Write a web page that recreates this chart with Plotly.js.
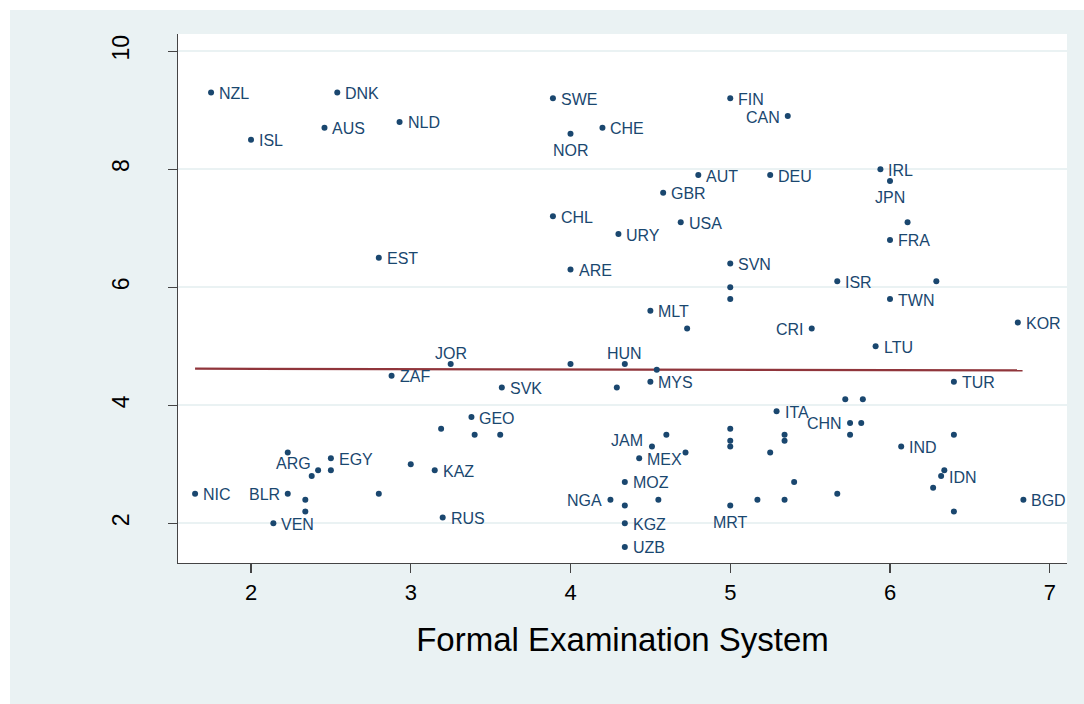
<!DOCTYPE html>
<html><head><meta charset="utf-8">
<script src="https://cdn.plot.ly/plotly-3.0.1.min.js"></script>
<style>
html,body{margin:0;padding:0;background:#ffffff;}
#chart{position:absolute;left:10px;top:10px;width:1074px;height:694px;}
</style>
</head><body><div id="chart"></div>
<script>
// ---- data ----
const countries = [
  'NZL','DNK','ISL','AUS','NLD','SWE','NOR','CHE','FIN','CAN',
  'AUT','DEU','IRL','JPN','GBR','CHL','USA','URY','FRA','EST',
  'ARE','SVN','ISR','TWN','MLT','CRI','KOR','LTU','JOR','HUN',
  'ZAF','SVK','MYS','TUR','GEO','ITA','CHN','JAM','MEX','IND',
  'ARG','EGY','KAZ','IDN','MOZ','NIC','BLR','NGA','BGD','MRT',
  'RUS','VEN','KGZ','UZB',
  '','','','','','','','','','',
  '','','','','','','','','','',
  '','','','','','','','','','',
  '','','','','','','','','',''
];
const xVals = [
  1.75,2.54,2.00,2.46,2.93,3.89,4.00,4.20,5.00,5.36,
  4.80,5.25,5.94,6.00,4.58,3.89,4.69,4.30,6.00,2.80,
  4.00,5.00,5.67,6.00,4.50,5.51,6.80,5.91,3.25,4.34,
  2.88,3.57,4.50,6.40,3.38,5.29,5.75,4.51,4.43,6.07,
  2.23,2.50,3.15,6.32,4.34,1.65,2.23,4.25,6.835,5.00,
  3.20,2.14,4.34,4.34,
  6.11,6.29,5.00,5.00,4.73,4.00,4.54,4.29,5.72,5.83,
  5.82,3.19,3.40,3.56,4.60,5.00,5.00,5.00,5.34,5.34,
  5.75,6.40,4.72,5.25,2.42,2.50,2.38,3.00,6.34,6.27,
  5.40,2.34,2.34,2.80,4.34,4.55,5.17,5.34,5.67,6.40
];
const yVals = [
  9.3,9.3,8.5,8.7,8.8,9.2,8.6,8.7,9.2,8.9,
  7.9,7.9,8.0,7.8,7.6,7.2,7.1,6.9,6.8,6.5,
  6.3,6.4,6.1,5.8,5.6,5.3,5.4,5.0,4.7,4.7,
  4.5,4.3,4.4,4.4,3.8,3.9,3.7,3.3,3.1,3.3,
  3.2,3.1,2.9,2.8,2.7,2.5,2.5,2.4,2.4,2.3,
  2.1,2.0,2.0,1.6,
  7.1,6.1,6.0,5.8,5.3,4.7,4.6,4.3,4.1,4.1,
  3.7,3.6,3.5,3.5,3.5,3.6,3.4,3.3,3.5,3.4,
  3.5,3.5,3.2,3.2,2.9,2.9,2.8,3.0,2.9,2.6,
  2.7,2.4,2.2,2.5,2.3,2.4,2.4,2.4,2.5,2.2
];
// label placement (clock position style: r=right, l=left, b=below, t=above)
const labelPos = [
  'r','r','r','r','r','r','b','r','r','l',
  'r','r','r','b','r','r','r','r','r','r',
  'r','r','r','r','r','l','r','r','t','t',
  'r','r','r','r','r','r','l','tl','r','r',
  'b2','r','r','r','r','r','l','l','r','b',
  'r','r','r','r'
];
const fitX = [1.65, 6.83];
const fitY = [4.62, 4.59];
const xTicks = [2,3,4,5,6,7];
const yTicks = [2,4,6,8,10];
const xTitle = 'Formal Examination System';

// ---- styling ----
const NAVY = '#1A476F';
const MAROON = '#90353B';
const FONT = 'Liberation Sans, Arial, Helvetica, sans-serif';
const posStyle = {
  r:  {xanchor:'left',   yanchor:'middle', xshift:6,  yshift:-1},
  l:  {xanchor:'right',  yanchor:'middle', xshift:-6, yshift:-1},
  b:  {xanchor:'center', yanchor:'top',    xshift:0,  yshift:-6},
  b2: {xanchor:'center', yanchor:'top',    xshift:6,  yshift:-1},
  t:  {xanchor:'center', yanchor:'bottom', xshift:0,  yshift:0},
  tl: {xanchor:'right',  yanchor:'middle', xshift:-7, yshift:6}
};

const annotations = [];
countries.forEach(function(c, i){
  if(!c) return;
  const s = posStyle[labelPos[i]];
  annotations.push(Object.assign({
    x: xVals[i], y: yVals[i], xref:'x', yref:'y', text: c, showarrow:false,
    font:{family:FONT, size:16, color:NAVY}
  }, s));
});

const traces = [
  {x: fitX, y: fitY, type:'scatter', mode:'lines',
   line:{color:MAROON, width:2.2}, hoverinfo:'skip', showlegend:false},
  {x: xVals, y: yVals, text: countries, type:'scatter', mode:'markers',
   marker:{color:NAVY, size:6}, showlegend:false}
];

const layout = {
  width:1074, height:694,
  paper_bgcolor:'#EAF2F3', plot_bgcolor:'#FFFFFF',
  margin:{l:168, r:17, t:24, b:141},
  font:{family:FONT, color:'#000'},
  showlegend:false,
  xaxis:{
    range:[1.543, 7.108], tickvals:xTicks, ticktext:xTicks.map(String),
    ticks:'outside', ticklen:9, tickwidth:1.2, tickcolor:'#444',
    showline:true, linecolor:'#444', linewidth:1.2,
    showgrid:false, zeroline:false,
    tickfont:{family:FONT, size:22, color:'#000'},
    title:{text:xTitle, font:{family:FONT, size:33, color:'#000'}, standoff:24},
    automargin:false
  },
  yaxis:{
    range:[1.327, 10.29], tickvals:yTicks, ticktext:yTicks.map(String),
    tickangle:-90,
    ticks:'outside', ticklen:9, tickwidth:1.2, tickcolor:'#444',
    showline:true, linecolor:'#444', linewidth:1.2,
    showgrid:true, gridcolor:'#EAF2F3', gridwidth:2, zeroline:false,
    tickfont:{family:FONT, size:23, color:'#000'},
    ticklabelstandoff:30,
    automargin:false
  },
  annotations: annotations
};

Plotly.newPlot('chart', traces, layout, {displayModeBar:false, staticPlot:true});
</script>
</body></html>
